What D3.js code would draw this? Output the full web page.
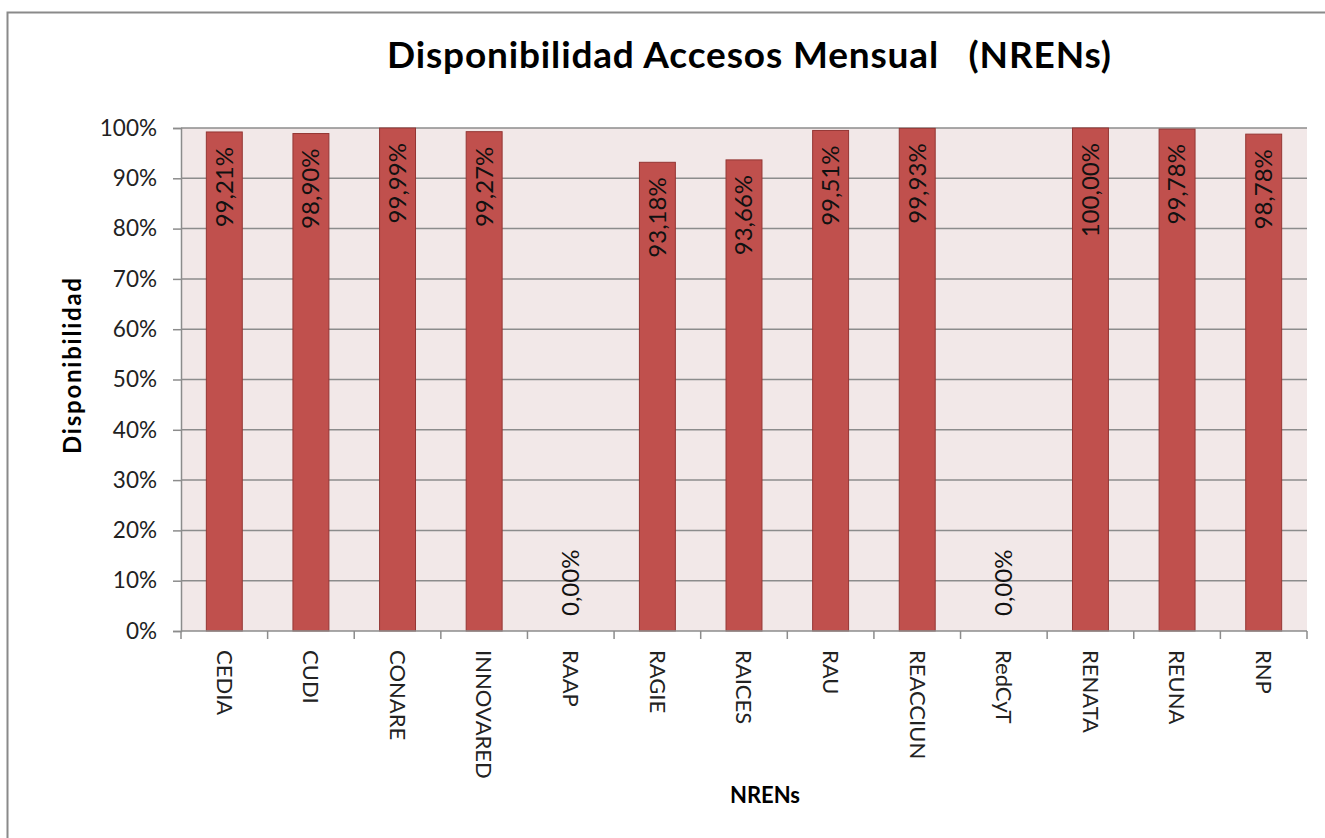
<!DOCTYPE html>
<html><head><meta charset="utf-8">
<script src="https://cdn.jsdelivr.net/npm/d3@7"></script>
<style>body{margin:0;background:#fff;} svg{display:block;font-family:Lato,"Open Sans",sans-serif;}</style>
</head><body>
<svg id="c" width="1325" height="838"></svg>
<script>
const categories = ["CEDIA","CUDI","CONARE","INNOVARED","RAAP","RAGIE","RAICES","RAU","REACCIUN","RedCyT","RENATA","REUNA","RNP"];
const values = [99.21, 98.90, 99.99, 99.27, 0.00, 93.18, 93.66, 99.51, 99.93, 0.00, 100.00, 99.78, 98.78];
const yTicks = [0,10,20,30,40,50,60,70,80,90,100];
const title = "Disponibilidad Accesos Mensual\u00a0\u00a0\u00a0(NRENs)";
const yTitle = "Disponibilidad";
const xTitle = "NRENs";

const svg = d3.select("#c");
const L = 181, R = 1307, T = 128, B = 631;

svg.append("rect").attr("x",7.5).attr("y",12.5).attr("width",1340).attr("height",900)
  .attr("fill","#fff").attr("stroke","#8a8a8a").attr("stroke-width",2);

const x = d3.scaleBand().domain(categories).range([L,R]).paddingInner(0.585).paddingOuter(0.2925);
const y = d3.scaleLinear().domain([0,100]).range([B,T]);

svg.append("rect").attr("x",L).attr("y",T).attr("width",R-L).attr("height",B-T).attr("fill","#F2E8E8");

// gridlines
svg.append("g").selectAll("line").data(yTicks.filter(d=>d>0)).join("line")
  .attr("x1",L).attr("x2",R).attr("y1",d=>y(d)).attr("y2",d=>y(d))
  .attr("stroke","#8c8c8c").attr("stroke-width",1.5);

// y axis
const yAxis = svg.append("g").attr("transform",`translate(${L},0)`)
  .call(d3.axisLeft(y).tickValues(yTicks).tickSize(8).tickPadding(16).tickFormat(d=>d+"%"));
yAxis.select(".domain").attr("stroke","#8c8c8c").attr("stroke-width",1.5);
yAxis.selectAll(".tick line").attr("stroke","#8c8c8c").attr("stroke-width",1.5);
yAxis.selectAll("text").attr("font-size",22.5).attr("fill","#222").attr("font-family","Lato");

// bars
svg.append("g").selectAll("rect").data(values).join("rect")
  .attr("x",(d,i)=>x(categories[i])).attr("width",x.bandwidth())
  .attr("y",d=>y(d)).attr("height",d=>B-y(d))
  .attr("fill","#C0504D").attr("stroke","#943634").attr("stroke-width",1);

// x axis
const bw = x.step();
const xAxisG = svg.append("g");
xAxisG.append("line").attr("x1",L).attr("x2",R).attr("y1",B).attr("y2",B).attr("stroke","#8c8c8c").attr("stroke-width",1.5);
xAxisG.selectAll("line.t").data(d3.range(categories.length+1)).join("line").attr("class","t")
  .attr("x1",i=>L+i*bw).attr("x2",i=>L+i*bw).attr("y1",B).attr("y2",B+8)
  .attr("stroke","#8c8c8c").attr("stroke-width",1.5);
xAxisG.selectAll("text").data(categories).join("text")
  .attr("transform",d=>`translate(${x(d)+x.bandwidth()/2},${B+19}) rotate(90)`)
  .attr("dy","0.35em").attr("font-size",22).attr("fill","#222").text(d=>d);

// data labels
svg.append("g").selectAll("text").data(values).join("text")
  .attr("transform",(d,i)=>{
    const cx = x(categories[i])+x.bandwidth()/2;
    const yy = d===0 ? y(d)-15 : y(d)+15;
    return `translate(${cx},${yy}) rotate(-90)`;
  })
  .attr("text-anchor",d=>d===0?"start":"end").attr("dy","0.35em")
  .attr("font-size",24).attr("fill","#111")
  .text(d=>d.toFixed(2).replace(".",",")+"%");

// titles
svg.append("text").attr("x",749).attr("y",68).attr("text-anchor","middle")
  .attr("font-size",37).attr("font-weight","bold").attr("fill","#000")
  .attr("textLength",724).attr("lengthAdjust","spacing").text(title);
svg.append("text").attr("transform","translate(73,366) rotate(-90)").attr("text-anchor","middle")
  .attr("dy","0.35em").attr("font-size",24).attr("font-weight","bold")
  .attr("textLength",176).attr("lengthAdjust","spacing").text(yTitle);
svg.append("text").attr("x",765).attr("y",803).attr("text-anchor","middle")
  .attr("font-size",22).attr("font-weight","bold").text(xTitle);
</script>
</body></html>
